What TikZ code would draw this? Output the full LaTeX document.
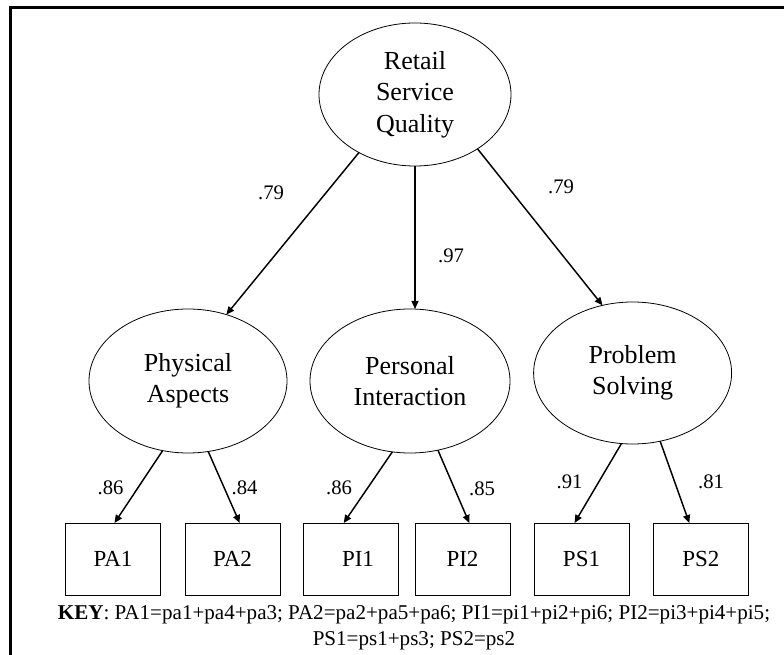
\documentclass[tikz,border=0pt]{standalone}
\usepackage{fontspec}
\setmainfont{Liberation Serif}
\usetikzlibrary{arrows.meta,calc,shapes.geometric}

\tikzset{
  latent/.style={ellipse, draw, line width=0.6pt, inner sep=0pt, outer sep=0pt,
    align=center, font=\fontsize{19.5pt}{23.6pt}\selectfont},
  indicator/.style={rectangle, draw, line width=0.6pt, inner sep=0pt, outer sep=0pt,
    minimum width=71.25pt, minimum height=54pt, font=\fontsize{17.25pt}{20pt}\selectfont},
  coef/.style={inner sep=0pt, font=\fontsize{15.5pt}{18pt}\selectfont},
  arr/.style={line width=1.1pt, -{Triangle[length=6pt,width=5.2pt]}},
}

\begin{document}
\begin{tikzpicture}[x=0.75pt, y=-0.75pt]
  \useasboundingbox (0,0) rectangle (784,655);

  % frame (top and left edges)
  \draw[line width=2.25pt, line join=miter] (10.5,655) -- (10.5,7.5) -- (784,7.5);

  % second-order factor
  \node[latent, minimum width=144pt, minimum height=107.25pt] (rsq) at (415,94.5)
    {Retail\\Service\\Quality};

  % first-order factors
  \node[latent, minimum width=148.5pt, minimum height=108pt] (pa) at (188,381)
    {Physical\\Aspects};
  \node[latent, minimum width=150pt, minimum height=108pt] (pi) at (410,381)
    {Personal\\Interaction};
  \node[latent, minimum width=148.5pt, minimum height=106.5pt] (ps) at (632.6,373)
    {Problem\\Solving};

  % observed indicators
  \node[indicator] (pa1) at (113,559) {PA1};
  \node[indicator] (pa2) at (232.5,559) {PA2};
  \node[indicator] (pi1) at (351,559) {\hspace*{10.5pt}PI1};
  \node[indicator] (pi2) at (462.5,559) {PI2};
  \node[indicator] (ps1) at (581.5,559) {PS1};
  \node[indicator] (ps2) at (700.8,559) {PS2};

  % structural paths
  \draw[arr] (rsq.-134.7) -- (pa.60.7);
  \draw[arr] (rsq.south) -- (rsq.south |- pi.north);
  \draw[arr] (rsq.-41.4) -- (ps.114.1);

  % measurement paths
  \draw[arr] (pa.-110.8) -- ($(pa1.north)+(1.5,0)$);
  \draw[arr] (pa.-74.2) -- ($(pa2.north)+(7.2,0)$);
  \draw[arr] (pi.-104.6) -- ($(pi1.north)+(-7.3,0)$);
  \draw[arr] (pi.-68.7) -- ($(pi2.north)+(6.8,0)$);
  \draw[arr] (ps.-99.6) -- ($(ps1.north)+(-7,0)$);
  \draw[arr] (ps.-68.5) -- ($(ps2.north)+(-11.5,0)$);

  % loadings
  \node[coef] (c1) at (271,193) {.79};
  \node[coef] (c2) at (451,256) {.97};
  \node[coef] (c3) at (561,187) {.79};
  \node[coef] (c4) at (110.5,488) {.86};
  \node[coef] (c5) at (244.5,488) {.84};
  \node[coef] (c6) at (339,488) {.86};
  \node[coef] (c7) at (482,489) {.85};
  \node[coef] (c8) at (569.5,482) {.91};
  \node[coef] (c9) at (711,482) {.81};

  % key (base anchor sits on the last line)
  \node[anchor=base, align=center, inner sep=0pt,
        font=\fontsize{15.8pt}{20pt}\selectfont] (key) at (414,645.7)
    {\textbf{KEY}: PA1=pa1+pa4+pa3; PA2=pa2+pa5+pa6; PI1=pi1+pi2+pi6; PI2=pi3+pi4+pi5;\\
     PS1=ps1+ps3; PS2=ps2};
\end{tikzpicture}
\end{document}
